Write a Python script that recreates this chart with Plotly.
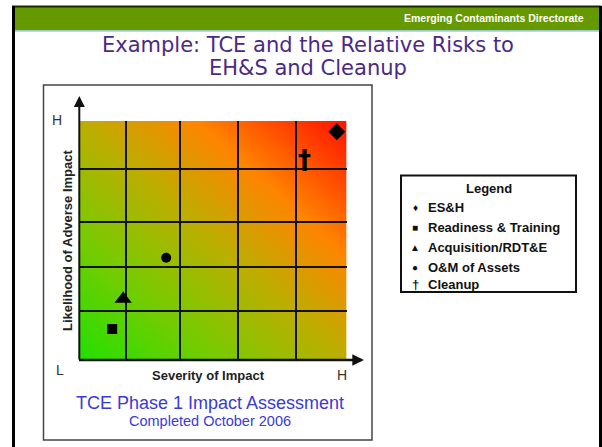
import base64
import plotly.graph_objects as go

# ---------------- data ----------------
categories = ["ES&H", "Readiness & Training", "Acquisition/RDT&E", "O&M of Assets", "Cleanup"]
severity = [0.963, 0.123, 0.164, 0.325, 0.843]       # x: Severity of Impact (0=L, 1=H)
likelihood = [0.954, 0.130, 0.255, 0.427, 0.845]     # y: Likelihood of Adverse Impact
marker_symbols = ["diamond", "square", "triangle-up", "circle", "dagger"]
legend_glyphs = ["♦", "■", "▲", "●", "†"]
x_grid = [0.1735, 0.3766, 0.5946, 0.809]
y_grid = [0.205, 0.390, 0.578, 0.799]
low_label, high_label = "L", "H"
title_lines = ["Example: TCE and the Relative Risks to", "EH&S and Cleanup"]

W, H = 602, 447


def px(x):
    return x / W


def py(y):
    return 1 - y / H


# plot area in pixels
PL, PR, PT, PB = 79.3, 346.7, 120.7, 360.0

fig = go.Figure()
ann = []

for name, sx, ly, sym in zip(categories, severity, likelihood, marker_symbols):
    if sym == "dagger":
        # invisible anchor point + dagger glyph placed at the same data position
        fig.add_trace(go.Scatter(
            x=[sx], y=[ly], mode="markers", name=name,
            marker=dict(size=12, color="black", opacity=0), showlegend=False))
        ann.append(dict(text="<b>†</b>", xref="x", yref="y", x=sx, y=ly, showarrow=False,
                        xanchor="center", yanchor="middle", yshift=-2,
                        font=dict(family="DejaVu Sans", size=26, color="black")))
    else:
        size = {"diamond": 13, "square": 10, "triangle-up": 15, "circle": 10}[sym]
        fig.add_trace(go.Scatter(
            x=[sx], y=[ly], mode="markers", name=name,
            marker=dict(symbol=sym, size=size, color="black", line=dict(width=0)),
            showlegend=False))

# gradient background as an svg image
stops = [(0, "#22e000"), (0.25, "#74cc00"), (0.5, "#bcae00"), (0.72, "#ff8400"),
         (0.86, "#ff4a00"), (1, "#ff1200")]
stop_xml = "".join(f'<stop offset="{o}" stop-color="{c}"/>' for o, c in stops)
svg = ('<svg xmlns="http://www.w3.org/2000/svg" width="100" height="100" viewBox="0 0 100 100" '
       'preserveAspectRatio="none"><defs><linearGradient id="g" x1="0" y1="1" x2="1" y2="0">'
       + stop_xml + '</linearGradient></defs><rect width="100" height="100" fill="url(#g)"/></svg>')
src = "data:image/svg+xml;base64," + base64.b64encode(svg.encode()).decode()

fig.update_layout(
    width=W, height=H, margin=dict(l=0, r=0, t=0, b=0),
    paper_bgcolor="white", plot_bgcolor="rgba(0,0,0,0)",
    showlegend=False,
    xaxis=dict(domain=[px(PL), px(PR)], range=[0, 1], tickvals=x_grid, showticklabels=False,
               ticks="", showgrid=True, gridcolor="#111", gridwidth=1.5, zeroline=False,
               showline=False, fixedrange=True),
    yaxis=dict(domain=[py(PB), py(PT)], range=[0, 1], tickvals=y_grid, showticklabels=False,
               ticks="", showgrid=True, gridcolor="#111", gridwidth=1.5, zeroline=False,
               showline=False, fixedrange=True),
    images=[dict(source=src, xref="x", yref="y", x=0, y=1, sizex=1, sizey=1,
                 sizing="stretch", layer="below")],
)

shapes = []
# header bar
shapes.append(dict(type="rect", xref="paper", yref="paper", x0=px(12), x1=px(601),
                   y0=py(30.5), y1=py(6), fillcolor="#669900", line=dict(width=0), layer="below"))
shapes.append(dict(type="line", xref="paper", yref="paper", x0=px(12), x1=px(601),
                   y0=py(6.5), y1=py(6.5), line=dict(color="#1a2a00", width=2)))
shapes.append(dict(type="line", xref="paper", yref="paper", x0=px(14), x1=px(600),
                   y0=py(31), y1=py(31), line=dict(color="#99ccee", width=1.5)))
# slide frame sides
shapes.append(dict(type="line", xref="paper", yref="paper", x0=px(13.5), x1=px(13.5),
                   y0=py(6), y1=py(447), line=dict(color="black", width=3)))
shapes.append(dict(type="line", xref="paper", yref="paper", x0=px(600.5), x1=px(600.5),
                   y0=py(6), y1=py(447), line=dict(color="black", width=3)))
# chart box
shapes.append(dict(type="rect", xref="paper", yref="paper", x0=px(43.5), x1=px(372),
                   y0=py(440), y1=py(85), line=dict(color="#444", width=1.5),
                   fillcolor="rgba(0,0,0,0)"))
# legend box
shapes.append(dict(type="rect", xref="paper", yref="paper", x0=px(401), x1=px(576),
                   y0=py(292), y1=py(175.5), line=dict(color="#111", width=2),
                   fillcolor="white"))
fig.update_layout(shapes=shapes)

# header
ann.append(dict(text="<b>Emerging Contaminants Directorate</b>", xref="paper", yref="paper",
                x=px(586), y=py(18.5), xanchor="right", yanchor="middle", showarrow=False,
                font=dict(family="Liberation Sans", size=10.5, color="white")))
# title (two lines)
for line, yy in zip(title_lines, [45, 68]):
    ann.append(dict(text=line, xref="paper", yref="paper", x=px(308), y=py(yy),
                    xanchor="center", yanchor="middle", showarrow=False,
                    font=dict(family="DejaVu Sans", size=21, color="#4a2a85")))
# axis arrows
ann.append(dict(text="", xref="x", yref="paper", x=0, y=py(96), ax=0, ay=PB - 96 + 1,
                axref="pixel", ayref="pixel", showarrow=True, arrowhead=2, arrowsize=1.1,
                arrowwidth=2, arrowcolor="#111", standoff=0, startstandoff=0))
ann.append(dict(text="", xref="paper", yref="y", x=px(364), y=0, ax=-(364 - 77.5), ay=0,
                showarrow=True, arrowhead=2, arrowsize=0.9, arrowwidth=2.6, arrowcolor="#111",
                standoff=0, startstandoff=0))
# L / H labels
for t, xx, yy in [(high_label, 57, 120), (low_label, 60, 370), (high_label, 342, 375)]:
    ann.append(dict(text=t, xref="paper", yref="paper", x=px(xx), y=py(yy), xanchor="center",
                    yanchor="middle", showarrow=False,
                    font=dict(family="Liberation Sans", size=14, color="#333")))
# axis titles
ann.append(dict(text="<b>Severity of Impact</b>", xref="paper", yref="paper", x=px(208),
                y=py(375), xanchor="center", yanchor="middle", showarrow=False,
                font=dict(family="Liberation Sans", size=13, color="#222")))
ann.append(dict(text="<b>Likelihood of Adverse Impact</b>", xref="paper", yref="paper",
                x=px(67), y=py(240), xanchor="center", yanchor="middle", showarrow=False,
                textangle=-90, font=dict(family="Liberation Sans", size=13, color="#222")))
# captions
ann.append(dict(text="TCE Phase 1 Impact Assessment", xref="paper", yref="paper", x=px(210),
                y=py(403), xanchor="center", yanchor="middle", showarrow=False,
                font=dict(family="Liberation Sans", size=18, color="#3a3ad6")))
ann.append(dict(text="Completed October 2006", xref="paper", yref="paper", x=px(210),
                y=py(421), xanchor="center", yanchor="middle", showarrow=False,
                font=dict(family="Liberation Sans", size=14.5, color="#3a3ad6")))
# legend
ann.append(dict(text="<b>Legend</b>", xref="paper", yref="paper", x=px(489), y=py(188),
                xanchor="center", yanchor="middle", showarrow=False,
                font=dict(family="Liberation Sans", size=13, color="#111")))
legend_rows = [207, 227, 247, 267, 284]
for name, glyph, yy in zip(categories, legend_glyphs, legend_rows):
    gsize = 13 if glyph == "†" else 10
    ann.append(dict(text=f"<b>{glyph}</b>", xref="paper", yref="paper", x=px(415), y=py(yy),
                    xanchor="center", yanchor="middle", showarrow=False,
                    font=dict(family="Liberation Sans", size=gsize, color="#111")))
    ann.append(dict(text=f"<b>{name}</b>", xref="paper", yref="paper", x=px(426), y=py(yy),
                    xanchor="left", yanchor="middle", showarrow=False,
                    font=dict(family="Liberation Sans", size=13, color="#111")))
fig.update_layout(annotations=ann)

fig.write_html("out.html", config={"displayModeBar": False},
               post_script="document.body.style.margin='0';document.body.style.overflow='hidden';")
